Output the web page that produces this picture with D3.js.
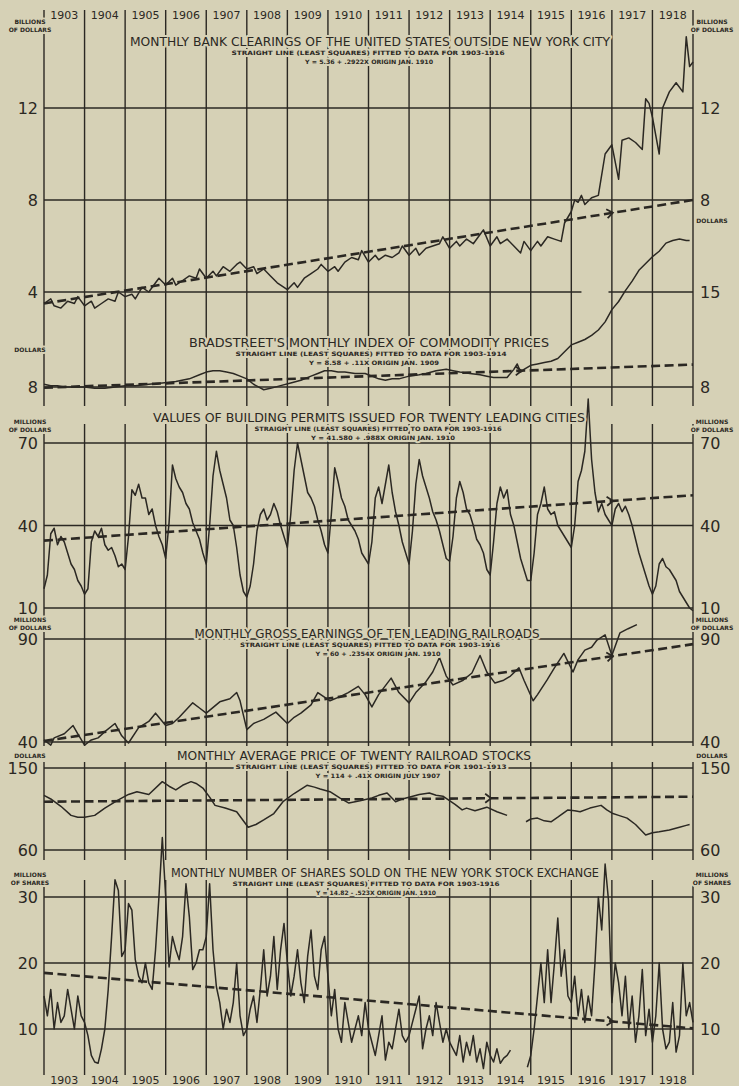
<!DOCTYPE html>
<html>
<head>
<meta charset="utf-8">
<script src="https://cdn.jsdelivr.net/npm/d3@7"></script>
<style>
  body { margin: 0; background: #d6d1b6; }
  svg { display: block; }
  text { font-family: "DejaVu Sans", sans-serif; fill: #2b2823; }
</style>
</head>
<body>
<svg id="chart" width="739" height="1086"></svg>
<script>
// ---- data (month index from Jan 1903, value) ----
const years = d3.range(1903, 1919);

const bankClearings = [[0,3.5],[2,3.7],[3,3.4],[5,3.3],[7,3.6],[9,3.5],[10,3.8],[12,3.4],[14,3.6],[15,3.3],[17,3.5],[19,3.7],[21,3.6],[22,4.0],[24,3.8],[26,3.9],[27,3.7],[29,4.2],[31,4.0],[33,4.4],[34,4.6],[36,4.3],[38,4.6],[39,4.3],[41,4.5],[43,4.7],[45,4.6],[46,5.0],[48,4.6],[50,4.9],[51,4.7],[53,5.1],[55,4.9],[57,5.2],[58,5.3],[60,5.0],[62,5.1],[63,4.8],[65,5.0],[67,4.7],[69,4.4],[70,4.3],[72,4.1],[74,4.4],[75,4.2],[77,4.6],[79,4.8],[81,5.0],[82,5.2],[84,4.9],[86,5.1],[87,4.9],[89,5.3],[91,5.5],[93,5.4],[94,5.8],[96,5.3],[98,5.6],[99,5.4],[101,5.6],[103,5.5],[105,5.7],[106,6.0],[108,5.6],[110,5.9],[111,5.6],[113,5.9],[115,6.0],[117,6.1],[118,6.4],[120,5.9],[122,6.2],[123,6.0],[125,6.3],[127,6.1],[129,6.5],[130,6.7],[132,6.0],[134,6.4],[135,6.1],[137,6.3],[139,6.0],[141,5.7],[142,6.2],[144,5.8],[146,6.2],[147,6.0],[149,6.4],[151,6.3],[153,6.2],[154,7.0],[156,7.5],[157,8.0],[158,7.9],[159,8.2],[160,7.8],[162,8.1],[164,8.2],[166,10.0],[168,10.4],[170,8.9],[171,10.6],[173,10.7],[175,10.5],[177,10.2],[178,12.4],[179,12.2],[180,11.6],[182,10.0],[183,12.0],[185,12.7],[187,13.1],[189,12.7],[190,15.1],[191,13.8],[192,14.0]];

const commodityIndex = [[0,8.2],[2,8.1],[4,8.1],[6,8.0],[9,8.0],[12,8.0],[15,7.9],[18,7.9],[21,8.0],[24,8.1],[27,8.1],[31,8.2],[35,8.3],[39,8.4],[43,8.6],[46,8.9],[48,9.1],[50,9.2],[52,9.2],[54,9.1],[56,9.0],[58,8.8],[60,8.6],[62,8.2],[65,7.8],[67,7.9],[70,8.1],[73,8.3],[76,8.5],[79,8.8],[81,9.0],[83,9.2],[85,9.2],[87,9.1],[89,9.1],[92,9.0],[95,9.0],[97,8.8],[99,8.6],[101,8.5],[103,8.6],[105,8.6],[108,8.8],[111,8.9],[113,9.0],[116,9.2],[119,9.3],[121,9.2],[123,9.1],[126,9.0],[129,8.9],[131,8.8],[133,8.7],[135,8.7],[137,8.7],[139,9.3],[140,9.7],[141,9.1],[142,9.3],[144,9.6],[146,9.7],[148,9.8],[150,9.9],[152,10.1],[154,10.6],[156,11.1],[158,11.3],[160,11.5],[162,11.8],[164,12.2],[166,12.8],[168,13.7],[170,14.3],[172,15.1],[174,15.8],[176,16.6],[178,17.1],[180,17.6],[182,18.0],[184,18.6],[186,18.8],[188,18.9],[190,18.8],[191,18.8]];

// monthly, Jan 1903 .. Jan 1919
const buildingPermits = [
  17,22,37,39,33,36,34,30,26,24,20,18,
  15,17,34,38,36,39,33,31,32,29,25,26,
  24,36,53,51,55,50,50,44,46,40,36,33,
  28,41,62,57,54,52,48,46,41,38,35,30,
  26,40,58,67,60,55,50,42,40,32,22,16,
  14,18,26,38,44,46,42,44,48,45,40,36,
  32,44,60,70,64,58,52,50,47,42,38,33,
  30,44,61,56,50,47,42,40,38,35,30,28,
  26,34,50,54,48,55,62,52,45,40,34,30,
  26,38,55,64,58,54,50,45,42,38,33,28,
  27,36,50,56,52,46,44,40,35,33,30,24,
  22,34,48,54,50,53,44,40,34,28,24,20,
  20,30,44,48,54,46,44,45,40,38,36,34,
  32,40,56,60,67,86,64,52,45,48,44,42,
  40,46,48,45,47,44,40,35,30,26,22,18,
  15,18,26,28,25,24,22,20,16,14,12,10,9];

const railroadEarnings = [[0,41],[2,38.5],[3,42],[6,44],[8.6,48],[10,44],[12,38.5],[14,41],[16,42],[18,45],[21,49],[23,43],[25,39.5],[28,47],[31,50],[33,54],[36,48],[38,49],[40,52],[44,59],[46,56.5],[48,54],[52,59.5],[55,61],[57,64],[58,60],[60,46],[62,49],[65,51],[68.6,54.5],[72,49],[74,52],[76,54],[79,58],[81,64],[84.6,60],[87.6,62],[90,64],[93,67],[95,63],[97,57],[99,63],[102.7,71],[105,64],[108,59],[110,64],[112.7,68.6],[115,74],[117,81],[119,72],[121,67.7],[124,70],[126.6,73.5],[129,82],[131,74],[133.4,68.6],[136,70],[138,72],[140.5,76],[142,70],[144.7,60],[146,63],[148.8,70],[151,76],[153.8,83],[156.5,74],[158,80],[160,84.6],[162,86],[163.6,89.5],[166,92],[168,82],[170.4,93],[172.8,95],[175.4,97]];

// null = exchange closed
const railroadStocks = [[0,120],[2,116],[5,108],[8,98],[10,96],[12,96],[15,98],[18,106],[22,115],[25,121],[27.5,124],[31,121],[35,135],[37,130],[39,126],[41,131],[43.5,135],[45,133],[47,128],[49,118],[50.6,109],[53.6,106],[57,102],[60.4,85],[62.7,88],[65,93],[68,100],[70.7,113],[74,122],[77.8,131],[80,129],[81.7,127],[84.6,124],[87.6,117],[90.2,111.5],[93.5,114],[97,117],[99,120],[101.5,122.5],[104,113],[106,116],[108,118],[111,121],[114,122.5],[116,120],[118,119],[121.6,110],[123.7,104],[125,106],[127.5,103],[131,107],[134,102],[137,98],null,[142.6,91],[144,94],[146,95],[148,92],[150,91],[152,96],[155,104],[157,103],[158.6,102],[161.5,106],[164.8,109],[166.5,104],[168.3,100],[170,98],[172.5,95],[175,88],[178,76.5],[180,79],[182,80],[185,82],[188,85],[190,87],[191,88]];

// monthly, Jan 1903 .. Jan 1919
const sharesSold = [
  15,12,16,10,14,11,12,16,13,10,15,12,
  11,9,6,5,4.8,7,10,16,24,32.6,31,21,
  22,29,28,20.5,18,17,20,17,16,22,30,39,
  30,19.4,24,22,20.5,24,32,27,19,20,22,22,
  24,32,22,16.4,14,10,13,11,14,20,12,9,
  10,13,15,11,16,22,15,18,24,16,22,26,
  20,15,18,22,17,14,21,25,18,16,22,24,
  18,12,16,10,8,14,11,8,10,12,9,14,
  10,8,6,9,12,5.3,8,7,10,13,9,8,
  9,11,13,15,7,10,12,9,14,11,8,10,
  8,7,6,9,5,8,6,9,5,7,4,8,
  6,5,7,4.8,5.6,6,6.8,null,null,null,null,4.2,
  6,10,15,20,14,22,14,20,26.8,18,22,15,
  14,18,12,16,11,15,12,20,30,25,35,29.5,
  14,20,17,12,18,10,15,8,12,19,9,13,
  8,12,20,10,7,8,14,6.5,9,20,12,14,11];

// fitted straight lines, value at Jan 1903 and at Jan 1919
const bankTrend = [3.5, 8.0];
const commodityTrend = [7.95, 9.65];
const permitsTrend = [34.5, 51];
const earningsTrend = [40.5, 87.5];
const stocksTrend = [113, 118.5];
const sharesTrend = [18.5, 10.1];

const titles = [
  'MONTHLY BANK CLEARINGS OF THE UNITED STATES OUTSIDE NEW YORK CITY',
  "BRADSTREET'S MONTHLY INDEX OF COMMODITY PRICES",
  'VALUES OF BUILDING PERMITS ISSUED FOR TWENTY LEADING CITIES',
  'MONTHLY GROSS EARNINGS OF TEN LEADING RAILROADS',
  'MONTHLY AVERAGE PRICE OF TWENTY RAILROAD STOCKS',
  'MONTHLY NUMBER OF SHARES SOLD ON THE NEW YORK STOCK EXCHANGE'
];
const fitNotes = [
  'STRAIGHT LINE (LEAST SQUARES) FITTED TO DATA FOR 1903-1916',
  'STRAIGHT LINE (LEAST SQUARES) FITTED TO DATA FOR 1903-1914',
  'STRAIGHT LINE (LEAST SQUARES) FITTED TO DATA FOR 1903-1916',
  'STRAIGHT LINE (LEAST SQUARES) FITTED TO DATA FOR 1903-1916',
  'STRAIGHT LINE (LEAST SQUARES) FITTED TO DATA FOR 1901-1913',
  'STRAIGHT LINE (LEAST SQUARES) FITTED TO DATA FOR 1903-1916'
];
const equations = [
  'Y = 5.36 + .2922X  ORIGIN JAN. 1910',
  'Y = 8.58 + .11X  ORIGIN  JAN. 1909',
  'Y = 41.580 + .988X  ORIGIN JAN. 1910',
  'Y = 60 + .2354X  ORIGIN JAN. 1910',
  'Y = 114 + .41X  ORIGIN JULY 1907',
  'Y = 14.82 - .523X  ORIGIN JAN. 1910'
];

// ---- drawing ----
const ink = '#2b2823', paper = '#d6d1b6';
const svg = d3.select('#chart');
const x = d3.scaleLinear().domain([0, 192]).range([44, 693]);
const monthly = arr => arr.map((v, i) => v == null ? null : [i, v]);

// grid rows: [value, from month, to month]
const panels = [
  { data: bankClearings, trend: bankTrend, arrowAt: 168, domain: [4, 12], range: [292, 108],
    left: [12, 8, 4], right: [12, 8], grid: [[12, 0, 192], [8, 0, 192], [4, 0, 159]],
    tY: 46, tX: 370, tW: 480, sX: 368, sW: 273, eX: 369, eW: 128,
    unitL: ['BILLIONS', 'OF DOLLARS'], uLy: 24, unitR: ['BILLIONS', 'OF DOLLARS'], uRy: 24 },
  { data: commodityIndex, trend: commodityTrend, arrowAt: 141, domain: [8, 15], range: [387, 292],
    left: [8], right: [15, 8], grid: [[8, 0, 192], [15, 167, 192]],
    tY: 347, tX: 369, tW: 360, sX: 371, sW: 271, eX: 374, eW: 130,
    unitL: ['DOLLARS'], uLy: 352, unitR: ['DOLLARS'], uRy: 223 },
  { data: monthly(buildingPermits), trend: permitsTrend, arrowAt: 168, domain: [10, 70], range: [608, 443],
    left: [70, 40, 10], right: [70, 40, 10], grid: [[70, 0, 192], [40, 0, 192], [10, 0, 192]],
    tY: 422, tX: 369, tW: 432, sX: 378, sW: 247, eX: 383, eW: 144,
    unitL: ['MILLIONS', 'OF DOLLARS'], uLy: 424, unitR: ['MILLIONS', 'OF DOLLARS'], uRy: 424 },
  { data: railroadEarnings, trend: earningsTrend, arrowAt: 168, domain: [40, 90], range: [742, 639],
    left: [90, 40], right: [90, 40], grid: [[90, 0, 192], [40, 0, 192]],
    tY: 638, tX: 367, tW: 345, sX: 370, sW: 260, eX: 378, eW: 125,
    unitL: ['MILLIONS', 'OF DOLLARS'], uLy: 622, unitR: ['MILLIONS', 'OF DOLLARS'], uRy: 622 },
  { data: railroadStocks, trend: stocksTrend, arrowAt: 132, domain: [60, 150], range: [850, 768],
    left: [150, 60], right: [150, 60], grid: [[150, 0, 192], [60, 0, 192]],
    tY: 760, tX: 354, tW: 354, sX: 371, sW: 271, eX: 378, eW: 125,
    unitL: ['DOLLARS'], uLy: 758, unitR: ['DOLLARS'], uRy: 758 },
  { data: monthly(sharesSold), trend: sharesTrend, arrowAt: 168, domain: [10, 30], range: [1029, 897],
    left: [30, 20, 10], right: [30, 20, 10], grid: [[30, 0, 192], [20, 0, 192], [10, 0, 192]],
    tY: 877, tX: 385, tW: 428, sX: 366, sW: 267, eX: 376, eW: 120,
    unitL: ['MILLIONS', 'OF SHARES'], uLy: 877, unitR: ['MILLIONS', 'OF SHARES'], uRy: 877 }
];
panels.forEach((p, i) => {
  p.y = d3.scaleLinear().domain(p.domain).range(p.range);
  p.title = titles[i]; p.note = fitNotes[i]; p.eq = equations[i];
});

// vertical year lines, in blocks
const blocks = [[10, 406], [424, 746], [762, 860], [880, 1075]];
const gridG = svg.append('g');
blocks.forEach(([y0, y1]) => {
  gridG.append('g').selectAll('line').data(d3.range(17)).join('line')
    .attr('x1', i => x(i * 12)).attr('x2', i => x(i * 12))
    .attr('y1', y0).attr('y2', y1)
    .attr('stroke', ink).attr('stroke-width', 1.4);
});

// horizontal grid lines
panels.forEach(p => {
  gridG.append('g').selectAll('line').data(p.grid).join('line')
    .attr('x1', d => x(d[1])).attr('x2', d => x(d[2]))
    .attr('y1', d => p.y(d[0])).attr('y2', d => p.y(d[0]))
    .attr('stroke', ink).attr('stroke-width', 1.3);
});

// year labels top and bottom
[19, 1084].forEach(yy => {
  svg.append('g').selectAll('text').data(years).join('text')
    .attr('x', (d, i) => x(i * 12 + 6)).attr('y', yy)
    .attr('text-anchor', 'middle').attr('font-size', 11)
    .text(d => d);
});

const line = d3.line()
  .defined(d => d != null)
  .x(d => x(d[0])).y(d => d[1]);

panels.forEach(p => {
  const g = svg.append('g');

  // trend line
  const tr = [[0, p.trend[0]], [192, p.trend[1]]];
  g.append('path')
    .attr('d', d3.line().x(d => x(d[0])).y(d => p.y(d[1]))(tr))
    .attr('fill', 'none').attr('stroke', ink)
    .attr('stroke-width', 2.6).attr('stroke-dasharray', '9,4.5');
  // arrow mark at end of fitted period
  const ty = d3.scaleLinear().domain([0, 192]).range(p.trend);
  const ang = Math.atan2(p.y(ty(p.arrowAt + 1)) - p.y(ty(p.arrowAt)), x(p.arrowAt + 1) - x(p.arrowAt)) * 180 / Math.PI;
  g.append('path')
    .attr('d', 'M-5,-4.5L1,0L-5,4.5')
    .attr('transform', `translate(${x(p.arrowAt)},${p.y(ty(p.arrowAt))}) rotate(${ang})`)
    .attr('fill', 'none').attr('stroke', ink).attr('stroke-width', 1.8);

  // series
  g.append('path')
    .attr('d', line(p.data.map(d => d == null ? null : [d[0], p.y(d[1])])))
    .attr('fill', 'none').attr('stroke', ink)
    .attr('stroke-width', 1.5).attr('stroke-linejoin', 'round');
});

// text layer with paper halo so lines break behind it
const halo = sel => sel.attr('stroke', paper).attr('stroke-width', 4)
  .attr('paint-order', 'stroke').attr('stroke-linejoin', 'round');

panels.forEach(p => {
  const g = svg.append('g');
  g.append('text').attr('x', p.tX).attr('y', p.tY).attr('text-anchor', 'middle')
    .attr('font-size', 11.5).attr('textLength', p.tW).attr('lengthAdjust', 'spacingAndGlyphs')
    .text(p.title).call(halo);
  g.append('text').attr('x', p.sX).attr('y', p.tY + 9).attr('text-anchor', 'middle')
    .attr('font-size', 6).attr('font-weight', 'bold')
    .attr('textLength', p.sW).attr('lengthAdjust', 'spacingAndGlyphs')
    .text(p.note).call(halo);
  g.append('text').attr('x', p.eX).attr('y', p.tY + 18).attr('text-anchor', 'middle')
    .attr('font-size', 6).attr('font-weight', 'bold')
    .attr('textLength', p.eW).attr('lengthAdjust', 'spacingAndGlyphs')
    .text(p.eq).call(halo);

  // value labels
  g.append('g').selectAll('text').data(p.left).join('text')
    .attr('x', 38).attr('y', d => p.y(d) + 6).attr('text-anchor', 'end')
    .attr('font-family', 'Liberation Sans, sans-serif').attr('font-size', 16)
    .text(d => d);
  g.append('g').selectAll('text').data(p.right).join('text')
    .attr('x', 700).attr('y', d => p.y(d) + 6).attr('text-anchor', 'start')
    .attr('font-family', 'Liberation Sans, sans-serif').attr('font-size', 16)
    .text(d => d);

  // unit labels
  g.append('g').selectAll('text').data(p.unitL).join('text')
    .attr('x', 30).attr('y', (d, i) => p.uLy + i * 7.5).attr('text-anchor', 'middle')
    .attr('font-size', 6).attr('font-weight', 'bold')
    .text(d => d).call(halo);
  g.append('g').selectAll('text').data(p.unitR).join('text')
    .attr('x', 712).attr('y', (d, i) => p.uRy + i * 7.5).attr('text-anchor', 'middle')
    .attr('font-size', 6).attr('font-weight', 'bold')
    .text(d => d).call(halo);
});
</script>
</body>
</html>
